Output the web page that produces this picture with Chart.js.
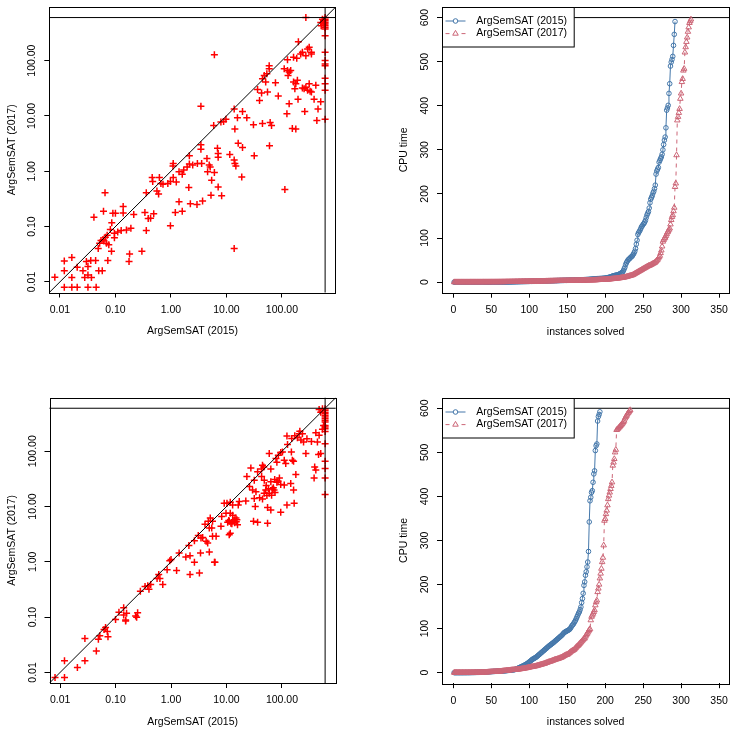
<!DOCTYPE html>
<html>
<head>
<meta charset="utf-8">
<script src="https://cdn.jsdelivr.net/npm/chart.js@4.4.1/dist/chart.umd.min.js"></script>
<style>
  html, body { margin: 0; padding: 0; background: #fff; }
  #page { position: relative; width: 736px; height: 735px; }
  canvas { position: absolute; }
</style>
</head>
<body>
<div id="page">
  <canvas id="tl" width="368" height="367" style="left:0;top:0"></canvas>
  <canvas id="tr" width="368" height="367" style="left:368px;top:0"></canvas>
  <canvas id="bl" width="368" height="367" style="left:0;top:368px"></canvas>
  <canvas id="br" width="368" height="367" style="left:368px;top:368px"></canvas>
</div>
<script>
// scatter, top: CPU time of each instance, 2015 (x) vs 2017 (y)
const topScatter2015 = [
  0.0081,0.012,0.0164,0.012,0.012,0.0164,0.0205,0.032,0.045,0.0164,
  0.0205,0.026,0.028,0.030,0.032,0.036,0.044,0.037,0.032,0.050,
  0.058,0.049,0.073,0.085,0.041,0.065,0.061,0.09,0.1,0.086,
  0.081,0.138,0.138,0.214,0.19,0.158,0.127,0.11,0.096,0.096,
  0.071,0.066,0.06,0.055,0.052,0.062,0.069,0.076,0.18,0.176,
  0.3,0.34,0.39,0.43,0.49,0.36,0.98,0.36,0.46,0.47,
  0.62,0.66,0.72,0.56,0.6,0.88,0.98,1.1,1.25,1.1,
  1.09,1.4,1.6,1.7,1.96,1.4,1.2,1.6,2.1,
  270,537,560,500,575,510,600,600,600,600,
  600,600,600,600,600,600,600,600,600,600,
  600,600,600,198,6.07,234,290,310,340,340,
  270,218,162,185,126,59,59,53.5,48,44.6,
  51,76.5,39.5,36.4,43,55,86,110,126,135,
  144,129,162,171,178,190,270,251,234,310,
  322,340,290,408,135,123,195,380,500,447,
  426,258,154,178,3.47,13.8,19.5,15.8,23.3,9.8,
  8.9,7.95,5.9,14.2,30.7,44.6,61.4,65,59.7,31.7,
  3.47,3.47,6.9,7.1,7.1,11.5,16.3,19.5,13.8,14.2,
  14.8,18.9,7.1,8.2,5.27,3.72,2.95,2.24,5.42,4.58,
  6.07,5.1,4.9,4.46,3.58,3.0,2.47,2.15,2.15,13.8,
  113
];
const topScatter2017 = [
  0.0122,0.024,0.0275,0.016,0.008,0.008,0.008,0.008,0.008,0.012,
  0.0185,0.016,0.012,0.0235,0.019,0.0245,0.0245,0.012,0.0133,0.016,
  0.016,0.040,0.0245,0.036,0.148,0.41,0.19,0.175,0.175,0.117,
  0.089,0.23,0.176,0.165,0.093,0.087,0.085,0.08,0.076,0.063,
  0.07,0.064,0.058,0.056,0.05,0.055,0.05,0.047,0.032,0.0235,
  0.036,0.18,0.14,0.142,0.17,0.085,0.104,0.41,0.77,0.65,
  0.77,0.6,0.58,0.44,0.39,0.6,0.65,0.77,0.64,1.38,
  1.24,0.98,0.88,1.05,1.2,0.28,0.18,0.19,0.51,
  600,560,525,490,457,426,600,560,525,490,
  457,426,398,372,281,141,100,87,81,48,
  38,29,8.7,220,128,141,162,174,141,132,
  123,132,115,110,104,81,71,58,54,47,
  41,40,19,30,26,27,23,71,66,62,
  66,54,41,31,38,44,33,31,32,38,
  28,27,29,36,16.6,11,20,20,18,13.4,
  8.3,12,5.9,5.8,15,13.4,12,9.3,9.3,8.7,
  7.9,7.8,6.7,5.8,6.9,7.3,7.6,6.7,2.9,1.9,
  3.0,2.5,2.6,2.1,1.8,2.0,3.2,2.7,1.6,1.38,
  1.25,0.79,0.52,0.36,0.37,0.29,0.25,0.26,0.69,0.98,
  0.95,1.2,1.3,1.7,1.38,1.38,1.3,1.35,1.9,0.04,
  0.47
];

// scatter, bottom
const botScatter2015 = [
  0.0081,0.012,0.012,0.0205,0.028,0.028,0.045,0.049,0.052,0.062,
  0.071,0.073,0.066,0.1,0.115,0.14,0.158,0.152,0.152,0.14,
  0.24,0.25,0.23,0.28,0.34,0.4,0.43,0.38,0.6,0.56,
  0.63,0.71,0.85,0.95,1.0,1.26,1.4,1.85,2.2,2.2,
  2.1,
  2.64,3.25,3.4,4.9,6.07,6.2,2.64,3.1,3.47,3.72,
  4.3,4.58,4.1,4.7,5.1,5.6,5.42,4.9,5.6,6.5,
  7.95,8.2,9.8,9.1,10.2,11.7,12.9,11.7,12.9,13.8,
  11.2,12,15.4,15.8,14.8,11.7,11.2,16.3,17,22.3,
  23.3,27.5,26,29.5,31.7,34,31.7,33,30.7,36.4,
  55,55,63,95,123,166,39.5,44.6,47.8,53.5,
  51,59,67,72,63,74,81,95,110,144,
  162,178,36.4,42.9,44.6,47,43,48,59,63,
  78,81,86,95,102,110,117,126,123,148,
  154,162,204,234,245,270,282,340,408,436,
  389,408,380,457,500,468,537,562,468,537,500,
  600,600,600,600,600,600,600,600,600,600,
  600,600,600,600,600,600,600,600,
  10.5,11,12.5,13,14,15,65,70,75,85,
  90,150,170,190,210,220,52,57
];
const botScatter2017 = [
  0.0081,0.0081,0.0162,0.0123,0.0162,0.041,0.0245,0.040,0.046,0.06,
  0.055,0.044,0.065,0.091,0.123,0.148,0.117,0.089,0.085,0.109,
  0.1,0.12,0.105,0.295,0.36,0.32,0.39,0.37,0.59,0.5,
  0.5,0.39,0.72,1.05,1.1,0.7,1.45,1.22,1.29,0.59,
  1.98,
  0.98,0.63,1.45,1.5,0.98,0.98,2.4,3.0,2.7,2.75,
  2.35,2.2,4.8,5.4,6.2,5.4,4.1,4.1,2.9,2.9,
  4.4,6.6,7.6,11.5,11.5,12,10.7,7.6,7.0,5.8,
  5.4,5.0,5.8,4.7,6.2,3.3,3.1,10.7,12.3,12.6,
  35,50,23,20,30,18.6,14,10,5.4,5.2,
  5.0,9.6,8.7,7.9,10.7,11.5,14.5,13.7,17.4,15.8,
  20,17.4,20.8,20,28,31,27.5,25,24.5,26,
  20,38,42.5,48,56,52,35,30,91,48,
  74,63,85,95,97,69,60,132,189,97,
  69,66,208,208,147,91,169,151,217,147,
  52,46,33,87,91,194,249,294,570,585,510,
  585,550,510,475,445,415,387,361,337,294,
  274,256,229,137,66,49,33,16.6,
  5.2,5.6,4.9,5.5,5.1,5.3,16,22,18,29,
  33,170,190,175,230,160,24,21
];

// cactus, top: sorted CPU times of solved instances
const topCactus2015 = [
  0.01,0.01,0.01,0.01,0.01,0.01,0.01,0.01,0.01,0.02,
  0.02,0.02,0.02,0.02,0.02,0.02,0.03,0.03,0.03,0.03,
  0.03,0.03,0.04,0.04,0.04,0.04,0.05,0.05,0.05,0.05,
  0.06,0.06,0.06,0.06,0.07,0.07,0.07,0.08,0.08,0.08,
  0.09,0.09,0.1,0.1,0.1,0.11,0.11,0.12,0.13,0.14,
  0.14,0.15,0.16,0.17,0.18,0.19,0.2,0.21,0.23,0.25,
  0.27,0.29,0.31,0.33,0.35,0.37,0.4,0.42,0.45,0.48,
  0.5,0.53,0.56,0.6,0.63,0.66,0.7,0.74,0.78,0.82,
  0.86,0.9,0.95,1,1,1.1,1.1,1.2,1.2,1.3,
  1.3,1.3,1.4,1.4,1.4,1.5,1.5,1.6,1.6,1.7,
  1.7,1.8,1.8,1.9,1.9,2,2,2.1,2.1,2.2,
  2.2,2.3,2.3,2.4,2.4,2.5,2.5,2.6,2.6,2.7,
  2.7,2.8,2.8,2.9,2.9,3,3,3.1,3.1,3.2,
  3.2,3.3,3.3,3.4,3.4,3.5,3.5,3.6,3.6,3.7,
  3.7,3.8,3.8,3.9,3.9,4,4,4.1,4.1,4.2,
  4.2,4.3,4.3,4.4,4.4,4.5,4.5,4.6,4.6,4.7,
  4.7,4.8,4.8,4.9,4.9,5,5,5.1,5.2,5.3,
  5.4,5.5,5.6,5.7,5.8,5.9,6,6.1,6.2,6.4,
  6.5,6.6,6.8,6.9,7,7.2,7.4,7.5,7.6,7.8,
  7.9,8,8.1,8.2,8.3,8.4,8.5,8.7,8.8,9,
  9.3,9.6,10,10.4,10.8,11.3,11.8,12.5,13.2,13.8,
  14.3,14.8,15.2,15.6,16,16.3,16.6,17.5,18.5,19.5,
  20.5,21.5,23,26,30,34,40,44,47,50,
  52,53,55,57,58,60,63,66,70,76,
  86,95,108,112,115,118,122,126,128,131,
  133,136,140,146,152,156,160,168,180,188,
  192,196,202,206,212,220,245,252,256,260,
  272,276,280,284,290,300,312,322,329,350,
  390,395,401,428,450,490,499,505,512,537,
  562,591
];
const topCactus2017 = [
  0.01,0.01,0.01,0.01,0.01,0.01,0.01,0.01,0.01,0.01,
  0.01,0.01,0.01,0.02,0.02,0.02,0.02,0.02,0.02,0.02,
  0.02,0.03,0.03,0.03,0.03,0.03,0.04,0.04,0.04,0.04,
  0.05,0.05,0.05,0.05,0.06,0.06,0.06,0.06,0.07,0.07,
  0.07,0.08,0.08,0.08,0.09,0.09,0.09,0.1,0.1,0.1,
  0.11,0.11,0.12,0.13,0.14,0.15,0.15,0.16,0.17,0.18,
  0.19,0.2,0.22,0.24,0.26,0.28,0.3,0.33,0.36,0.39,
  0.42,0.45,0.48,0.5,0.53,0.56,0.6,0.63,0.66,0.7,
  0.74,0.78,0.8,0.85,0.9,0.95,1,1,1,1.1,
  1.1,1.2,1.2,1.2,1.3,1.3,1.3,1.4,1.4,1.4,
  1.5,1.5,1.5,1.6,1.6,1.6,1.7,1.7,1.7,1.8,
  1.8,1.8,1.9,1.9,1.9,2,2,2,2.1,2.1,
  2.1,2.2,2.2,2.2,2.3,2.3,2.3,2.4,2.4,2.4,
  2.5,2.5,2.5,2.6,2.6,2.6,2.7,2.7,2.7,2.8,
  2.8,2.8,2.9,2.9,2.9,3,3,3,3.1,3.1,
  3.1,3.2,3.2,3.2,3.3,3.3,3.3,3.4,3.4,3.4,
  3.5,3.5,3.5,3.6,3.6,3.6,3.7,3.7,3.7,3.8,
  3.8,3.8,3.9,3.9,4,4,4.1,4.1,4.2,4.2,
  4.3,4.3,4.4,4.4,4.5,4.5,4.6,4.6,4.7,4.8,
  4.9,5,5.1,5.2,5.3,5.4,5.5,5.6,5.7,5.8,
  5.9,6,6.1,6.2,6.4,6.5,6.7,6.9,7,7.2,
  7.4,7.6,7.8,8,8.2,8.4,8.6,8.8,9,9.3,
  9.6,9.9,10.2,10.5,10.8,11.1,11.5,12,12.5,13,
  13.5,14,14.5,15,15.5,16,17,18,19,20,
  21,22,23,24,25,26,27,28,29,30,
  31,32,33,34,35,36,37,37.5,38,39,
  40,41,42,43,44,45,47,49,51,54,
  57,60,66,72,81,92,96,99,101,105,
  109,113,115,119,122,131,141,148,152,161,
  169,216,224,288,367,375,384,393,416,428,
  454,461,480,484,521,533,545,555,568,578,
  588,592,596
];

// cactus, bottom
const botCactus2015 = [
  0.01,0.01,0.01,0.01,0.02,0.02,0.02,0.03,0.03,0.04,
  0.04,0.05,0.06,0.07,0.08,0.09,0.1,0.11,0.13,0.15,
  0.17,0.2,0.23,0.27,0.3,0.35,0.4,0.45,0.5,0.56,
  0.62,0.7,0.78,0.86,0.95,1,1.1,1.2,1.3,1.4,
  1.5,1.6,1.7,1.8,1.9,2,2.1,2.2,2.3,2.4,
  2.5,2.6,2.7,2.8,2.9,3,3.1,3.2,3.3,3.4,
  3.5,3.6,3.7,3.8,3.9,4,4.1,4.2,4.4,4.6,
  4.8,5,5.2,5.4,5.6,5.8,6,6.2,6.4,6.6,
  7,7.6,8.3,9,9.8,10.6,11.4,12.2,13,13.8,
  14.6,15.4,16.3,17.2,18.2,19.2,20.3,21.5,22.8,24,
  25.5,27,28.5,30,31,32,33,34,35,36.5,
  38,39.5,41,42.5,44,45.5,47,48.5,50,51.5,
  53,54.5,56,57.5,59,60.5,62,63,64.5,66,
  67,68.5,70,71.5,73,74.5,76,77.5,79,80.5,
  82,83.5,85,87,89,91,92,93,94,95,
  96,97,98,100,103,106,108,110,113,116,
  119,123,127,131,135,138,143,149,159,168,
  180,198,206,221,229,240,251,275,342,390,
  398,409,413,432,451,458,504,515,519,571,
  581,586,592
];
const botCactus2017 = [
  0.01,0.01,0.01,0.01,0.01,0.01,0.02,0.02,0.02,0.02,
  0.03,0.03,0.03,0.04,0.04,0.05,0.05,0.06,0.07,0.08,
  0.09,0.1,0.11,0.12,0.14,0.16,0.18,0.2,0.23,0.26,
  0.3,0.33,0.37,0.41,0.45,0.5,0.55,0.6,0.66,0.72,
  0.78,0.85,0.92,1,1.1,1.2,1.3,1.4,1.5,1.6,
  1.7,1.8,1.9,2,2.1,2.2,2.3,2.4,2.5,2.6,
  2.8,3,3.2,3.4,3.6,3.8,4,4.2,4.4,4.6,
  4.8,5,5.2,5.4,5.6,5.8,6,6.1,6.2,6.3,
  6.4,6.6,6.8,7,7.2,7.5,7.7,8,8.2,8.5,
  8.8,9.1,9.4,9.7,10,10.3,10.6,11,11.6,12,
  12.3,12.6,12.9,13.2,13.5,13.9,14.3,14.6,15,15.5,
  16,16.5,17,17.5,18,18.5,19,19.5,20,20.5,
  21,22,22.5,23,24,24.5,25,25.5,26,27,
  27.5,28,29,29.5,30,30.5,31,31.5,32,33,
  33.5,34,35,36,37,38,39,40,40.5,41,
  42,43.5,45,46.5,48,49,50,51,52,54,
  56,58,60,61,63,65,67,69,71,73,
  75,77,78,82,85,88,91,94,97,99,
  119,127,130,134,138,142,153,160,164,183,
  191,200,214,225,236,251,261,289,345,349,
  360,368,380,394,402,409,417,424,432,470,
  477,485,500,506,551,552,554,556,558,560,
  562,564,566,569,572,577,580,583,586,589,
  591,594,596
];

const scatterTicks = [0.01, 0.1, 1, 10, 100];
const cactusXTicks = [0, 50, 100, 150, 200, 250, 300, 350];
const cactusYTicks = [0, 100, 200, 300, 400, 500, 600];
const timeout = 600;
const seriesNames = ['ArgSemSAT (2015)', 'ArgSemSAT (2017)'];

const FONT = "'Liberation Sans', Arial, Helvetica, sans-serif";
const FSIZE = 10.5;
const BLUE = '#4477AA';
const ROSE = '#CC6677';

Chart.defaults.font.family = FONT;
Chart.defaults.font.size = FSIZE;
Chart.defaults.color = '#000';
Chart.defaults.animation = false;

const mctx = document.createElement('canvas').getContext('2d');
function halfWidth(s) {
  mctx.font = FSIZE + 'px ' + FONT;
  return mctx.measureText(s).width / 2;
}

function pairs(xs, ys) { return xs.map((x, i) => ({x: x, y: ys[i]})); }
function ranked(vals) { return vals.map((v, i) => ({x: i + 1, y: v})); }

// R-like box around the plot region, plus the optional legend
const framePlugin = {
  id: 'frame',
  afterDraw(chart, args, opts) {
    const a = chart.chartArea, ctx = chart.ctx;
    ctx.save();
    ctx.strokeStyle = '#000';
    ctx.lineWidth = 1;
    ctx.strokeRect(Math.round(a.left) + 0.5, Math.round(a.top) + 0.5,
      Math.round(a.right - a.left), Math.round(a.bottom - a.top));
    if (opts.legend) {
      const l = Math.round(a.left) + 0.5, t = Math.round(a.top) + 0.5;
      ctx.fillStyle = '#fff';
      ctx.fillRect(l, t, 131.7, 39.5);
      ctx.strokeRect(l, t, 131.7, 39.5);
      opts.legend.forEach((it, i) => {
        const y = t + 13.5 + i * 12.6;
        ctx.strokeStyle = it.color;
        ctx.lineWidth = 1;
        ctx.setLineDash(it.dash);
        ctx.beginPath(); ctx.moveTo(l + 3, y); ctx.lineTo(l + 23, y); ctx.stroke();
        ctx.setLineDash([]);
        ctx.beginPath();
        if (it.marker === 'circle') {
          ctx.arc(l + 13, y, 2.3, 0, Math.PI * 2);
        } else {
          const r = 3.2;
          ctx.moveTo(l + 13, y - r);
          ctx.lineTo(l + 13 + r * 0.866, y + r / 2);
          ctx.lineTo(l + 13 - r * 0.866, y + r / 2);
          ctx.closePath();
        }
        ctx.fillStyle = '#fff'; ctx.fill(); ctx.stroke();
        ctx.fillStyle = '#000';
        ctx.font = FSIZE + 'px ' + FONT;
        ctx.textBaseline = 'middle';
        ctx.textAlign = 'left';
        ctx.fillText(it.text, l + 33.7, y);
      });
    }
    ctx.restore();
  }
};

function axis(o) {
  const isX = o.isX;
  return {
    type: o.type,
    min: o.min,
    max: o.max,
    afterBuildTicks: s => { s.ticks = o.ticks.map(v => ({value: v})); },
    afterFit: s => {
      if (isX) s.height = o.size; else s.width = o.size;
      s.paddingLeft = 0; s.paddingRight = 0; s.paddingTop = 0; s.paddingBottom = 0;
    },
    border: {display: false},
    grid: {display: true, drawOnChartArea: false, drawTicks: true, tickLength: 5, color: '#000', lineWidth: 1},
    ticks: {
      autoSkip: false,
      padding: o.tickPad,
      minRotation: isX ? 0 : 90,
      maxRotation: isX ? 0 : 90,
      crossAlign: isX ? 'near' : 'center',
      callback: o.fmt
    },
    title: {display: true, text: o.title, padding: isX ? {top: 0, bottom: 0} : {top: o.titlePad, bottom: 0}}
  };
}

function layoutFor(box) {
  return {padding: {left: 0, top: box[1], right: 368 - box[2], bottom: 367 - box[3] - 45.3}};
}

function scatterPanel(id, box, xs, ys) {
  const lo = 0.00644, hi = 931;
  new Chart(document.getElementById(id), {
    type: 'scatter',
    data: {
      datasets: [
        {data: [{x: 0.001, y: 0.001}, {x: 10000, y: 10000}], showLine: true, borderColor: '#000', borderWidth: 1, pointRadius: 0, order: 0},
        {data: [{x: 0.001, y: timeout}, {x: 10000, y: timeout}], showLine: true, borderColor: '#000', borderWidth: 1, pointRadius: 0, order: 0},
        {data: [{x: timeout, y: 0.001}, {x: timeout, y: 10000}], showLine: true, borderColor: '#000', borderWidth: 1, pointRadius: 0, order: 0},
        {data: pairs(xs, ys), pointStyle: 'cross', pointRadius: 3.5, pointBorderWidth: 1.5, borderColor: '#FF0000', order: 1}
      ]
    },
    options: {
      responsive: false,
      events: [],
      layout: layoutFor(box),
      plugins: {legend: {display: false}, tooltip: {enabled: false}, frame: {}},
      scales: {
        x: axis({isX: true, type: 'logarithmic', min: lo, max: hi, ticks: scatterTicks, size: 45.3,
          tickPad: 6.2, fmt: v => v.toFixed(2), title: seriesNames[0]}),
        y: axis({isX: false, type: 'logarithmic', min: lo, max: hi, ticks: scatterTicks, size: box[0],
          tickPad: 16.8 - 5 - halfWidth('100.00'), fmt: v => v.toFixed(2), title: seriesNames[1], titlePad: box[0] - 37 - 6.3})
      }
    },
    plugins: [framePlugin]
  });
}

function cactusPanel(id, box, a, b) {
  new Chart(document.getElementById(id), {
    type: 'scatter',
    data: {
      datasets: [
        {data: [{x: -100, y: timeout}, {x: 500, y: timeout}], showLine: true, borderColor: '#000', borderWidth: 1, pointRadius: 0, order: 3},
        {label: seriesNames[0], data: ranked(a), showLine: true, borderColor: BLUE, borderWidth: 1,
          pointStyle: 'circle', pointRadius: 2.3, pointBorderWidth: 1, pointBackgroundColor: 'rgba(0,0,0,0)', order: 2},
        {label: seriesNames[1], data: ranked(b), showLine: true, borderColor: ROSE, borderWidth: 1, borderDash: [4, 4],
          pointStyle: 'triangle', pointRadius: 3.2, pointBorderWidth: 1, pointBackgroundColor: 'rgba(0,0,0,0)', order: 1}
      ]
    },
    options: {
      responsive: false,
      events: [],
      layout: layoutFor(box),
      plugins: {
        legend: {display: false}, tooltip: {enabled: false},
        frame: {legend: [
          {text: seriesNames[0], color: BLUE, dash: [], marker: 'circle'},
          {text: seriesNames[1], color: ROSE, dash: [4, 4], marker: 'triangle'}
        ]}
      },
      scales: {
        x: axis({isX: true, type: 'linear', min: -15, max: 363.5, ticks: cactusXTicks, size: 45.3,
          tickPad: 6.2, fmt: v => String(v), title: 'instances solved'}),
        y: axis({isX: false, type: 'linear', min: -24, max: 624, ticks: cactusYTicks, size: box[0],
          tickPad: 16.5 - 5 - halfWidth('600'), fmt: v => String(v), title: 'CPU time', titlePad: box[0] - 38.2 - 6.3})
      }
    },
    plugins: [framePlugin]
  });
}

scatterPanel('tl', [49.3, 7, 335.7, 292.5], topScatter2015, topScatter2017);
scatterPanel('bl', [49.5, 29.7, 335.7, 315], botScatter2015, botScatter2017);
cactusPanel('tr', [74, 7, 361.3, 292.7], topCactus2015, topCactus2017);
cactusPanel('br', [74, 29.7, 361.3, 315.2], botCactus2015, botCactus2017);
</script>
</body>
</html>
